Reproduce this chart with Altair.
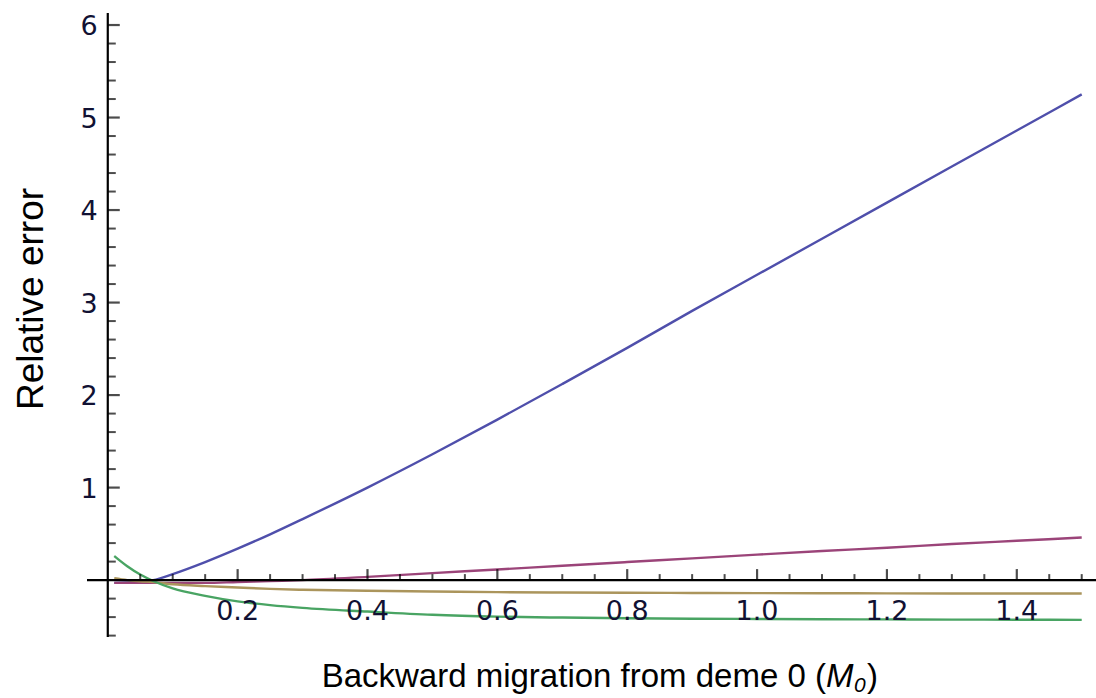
import altair as alt
import pandas as pd

# ---- data ----
x_vals = [0.01, 0.03, 0.05, 0.07, 0.1, 0.15, 0.2, 0.25, 0.3, 0.4, 0.5, 0.6, 0.7,
          0.8, 0.9, 1.0, 1.1, 1.2, 1.3, 1.4, 1.5]
blue = [-0.03, -0.025, -0.015, 0.0, 0.065, 0.195, 0.34, 0.495, 0.66, 1.0, 1.36,
        1.735, 2.12, 2.51, 2.91, 3.30, 3.69, 4.08, 4.47, 4.86, 5.25]
magenta = [-0.03, -0.03, -0.03, -0.03, -0.03, -0.03, -0.02, -0.01, 0.0, 0.035,
           0.075, 0.115, 0.155, 0.195, 0.235, 0.275, 0.315, 0.35, 0.39, 0.425, 0.46]
tan = [0.02, 0.0, -0.012, -0.022, -0.045, -0.065, -0.08, -0.095, -0.105, -0.115,
       -0.123, -0.13, -0.134, -0.137, -0.139, -0.141, -0.142, -0.143, -0.144,
       -0.145, -0.145]
green = [0.26, 0.15, 0.06, -0.01, -0.09, -0.17, -0.23, -0.27, -0.30, -0.34,
         -0.375, -0.395, -0.405, -0.412, -0.417, -0.42, -0.423, -0.425, -0.427,
         -0.428, -0.43]

series_names = ["s1", "s2", "s3", "s4"]
series_colors = ["#4f4fab", "#9b4479", "#ab955c", "#49a463"]

x_major = [0.2, 0.4, 0.6, 0.8, 1.0, 1.2, 1.4]
x_major_labels = ["0.2", "0.4", "0.6", "0.8", "1.0", "1.2", "1.4"]
x_minor = [round(0.05 * i, 2) for i in range(1, 31) if i % 4 != 0]
y_major = [1, 2, 3, 4, 5, 6]
y_major_labels = ["1", "2", "3", "4", "5", "6"]
y_minor = [round(0.2 * i, 1) for i in range(-3, 30) if i % 5 != 0]

X_DOMAIN = [-0.032, 1.522]
Y_DOMAIN = [-0.615, 6.13]

rows = []
for name, vals in zip(series_names, [blue, magenta, tan, green]):
    for xv, yv in zip(x_vals, vals):
        rows.append({"x": xv, "y": yv, "s": name})
df = pd.DataFrame(rows)

xs = alt.Scale(domain=X_DOMAIN, nice=False, zero=False)
ys = alt.Scale(domain=Y_DOMAIN, nice=False, zero=False)

lines = alt.Chart(df).mark_line(strokeWidth=2.4, interpolate="monotone").encode(
    x=alt.X("x:Q", scale=xs, axis=None),
    y=alt.Y("y:Q", scale=ys, axis=None),
    color=alt.Color("s:N", scale=alt.Scale(domain=series_names, range=series_colors), legend=None),
    order=alt.Order("x:Q"),
)

xline_df = pd.DataFrame({"x1": [X_DOMAIN[0]], "x2": [X_DOMAIN[1]], "y0": [0.0]})
yline_df = pd.DataFrame({"y1": [Y_DOMAIN[0]], "y2": [Y_DOMAIN[1]], "x0": [0.0]})

x_axis_line = alt.Chart(xline_df).mark_rule(color="black", strokeWidth=2.2).encode(
    x=alt.X("x1:Q", scale=xs, axis=None), x2="x2:Q",
    y=alt.Y("y0:Q", scale=ys, axis=None),
)
y_axis_line = alt.Chart(yline_df).mark_rule(color="black", strokeWidth=2.2).encode(
    y=alt.Y("y1:Q", scale=ys, axis=None), y2="y2:Q",
    x=alt.X("x0:Q", scale=xs, axis=None),
)

xmaj_df = pd.DataFrame({"v": x_major, "t": x_major_labels, "z": 0.0})
xmin_df = pd.DataFrame({"v": x_minor, "z": 0.0})
ymaj_df = pd.DataFrame({"v": y_major, "t": y_major_labels, "z": 0.0})
ymin_df = pd.DataFrame({"v": y_minor, "z": 0.0})

x_major_ticks = alt.Chart(xmaj_df).mark_tick(orient="vertical", size=11, thickness=2.2,
                                             color="black", yOffset=-5.5).encode(
    x=alt.X("v:Q", scale=xs, axis=None), y=alt.Y("z:Q", scale=ys, axis=None))
x_minor_ticks = alt.Chart(xmin_df).mark_tick(orient="vertical", size=6, thickness=2,
                                             color="black", yOffset=-3).encode(
    x=alt.X("v:Q", scale=xs, axis=None), y=alt.Y("z:Q", scale=ys, axis=None))
y_major_ticks = alt.Chart(ymaj_df).mark_tick(orient="horizontal", size=12, thickness=2.2,
                                             color="black", xOffset=6).encode(
    y=alt.Y("v:Q", scale=ys, axis=None), x=alt.X("z:Q", scale=xs, axis=None))
y_minor_ticks = alt.Chart(ymin_df).mark_tick(orient="horizontal", size=8, thickness=2,
                                             color="black", xOffset=4).encode(
    y=alt.Y("v:Q", scale=ys, axis=None), x=alt.X("z:Q", scale=xs, axis=None))

x_labels = alt.Chart(xmaj_df).mark_text(font="DejaVu Sans", fontSize=27, color="#111133",
                                        align="center", baseline="alphabetic", dy=40).encode(
    x=alt.X("v:Q", scale=xs, axis=None), y=alt.Y("z:Q", scale=ys, axis=None), text="t:N")
y_labels = alt.Chart(ymaj_df).mark_text(font="DejaVu Sans", fontSize=27, color="#111133",
                                        align="right", baseline="alphabetic", dx=-10, dy=10).encode(
    y=alt.Y("v:Q", scale=ys, axis=None), x=alt.X("z:Q", scale=xs, axis=None), text="t:N")

TITLE_FONT = "Liberation Sans"
titles_df = pd.DataFrame({
    "t": ["Relative error", "Backward migration from deme 0 (", "M", "0", ")"],
    "px": [-44, 739, 739, 767, 780],
    "py": [286, 674, 674, 679, 674],
})

def title_part(i, **kw):
    return alt.Chart(titles_df.iloc[[i]]).mark_text(
        font=TITLE_FONT, baseline="alphabetic", color="black", **kw
    ).encode(
        x=alt.X("px:Q", scale=None, axis=None),
        y=alt.Y("py:Q", scale=None, axis=None),
        text="t:N",
    )

y_title = title_part(0, fontSize=37, angle=270, align="center")
x_title_a = title_part(1, fontSize=33, align="right")
x_title_m = title_part(2, fontSize=33, fontStyle="italic", align="left")
x_title_sub = title_part(3, fontSize=21, fontStyle="italic", align="left")
x_title_c = title_part(4, fontSize=33, align="left")

chart = alt.layer(
    lines, x_axis_line, y_axis_line, x_major_ticks, x_minor_ticks, y_major_ticks, y_minor_ticks,
    x_labels, y_labels,
).properties(width=1009, height=624)

titles = alt.layer(y_title, x_title_a, x_title_m, x_title_sub, x_title_c)

final = alt.layer(chart, titles).resolve_scale(x="independent", y="independent").properties(
    width=1009, height=624, autosize="none",
    padding={"left": 87, "top": 13, "right": 0, "bottom": 61},
    background="white",
).configure_view(stroke=None)

final.save("out.html", embed_options={"renderer": "svg", "actions": False})
